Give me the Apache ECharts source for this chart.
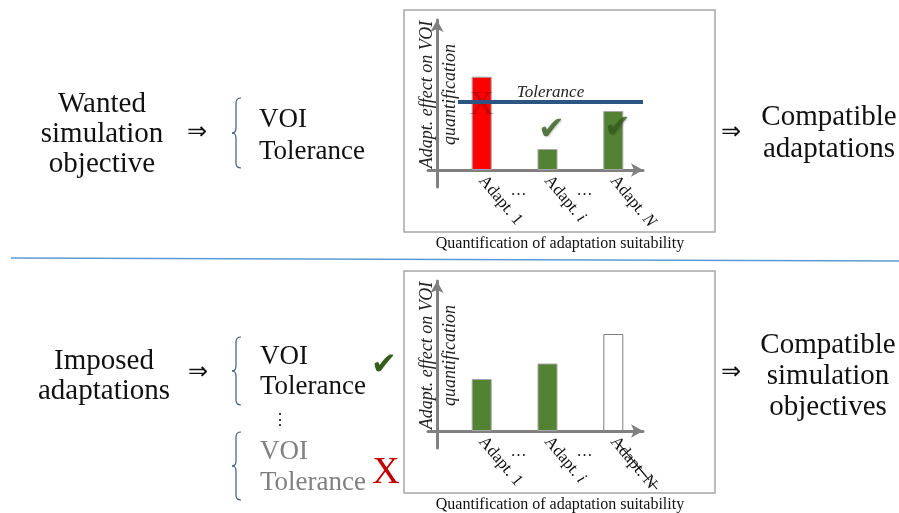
<!DOCTYPE html>
<html>
<head>
<meta charset="utf-8">
<script src="https://cdn.jsdelivr.net/npm/echarts@6/dist/echarts.min.js"></script>
<style>
html, body { margin: 0; padding: 0; background: #fff; }
#main { width: 899px; height: 513px; }
</style>
</head>
<body>
<div id="main"></div>
<script>
// categories of adaptations (the dots are gaps between them)
var categories = ['Adapt. 1', '…', 'Adapt. i', '…', 'Adapt. N'];

// top panel: wanted simulation objective
var wantedEffect = [9.33, null, 2.1, null, 5.9];
var wantedTolerance = 6.83;
var wantedVerdict = ['rejected', null, 'accepted', null, 'accepted'];
var wantedMarkLevel = [6.45, null, 3.95, null, 4.1];

// bottom panel: imposed adaptations
var imposedEffect = [5.2, null, 6.75, null, 9.7];
var imposedTolerance = 7.75;
var imposedVerdict = ['accepted', null, 'accepted', null, 'excluded'];

var SERIF = 'Liberation Serif';
var verdictStyle = {
	rejected: { color: '#ff0000', borderColor: '#a6a6a6', borderWidth: 1 },
	accepted: { color: '#548235', borderColor: '#a6a6a6', borderWidth: 1 },
	excluded: { color: '#ffffff', borderColor: '#7f7f7f', borderWidth: 1 }
};

function strike(s) {
	return s.split('').map(function (c) { return c + '\u0336'; }).join('');
}

var myChart = echarts.init(document.getElementById('main'));

var option = {
	animation: false,
	backgroundColor: '#fff',
	grid: [], xAxis: [], yAxis: [], series: [], graphic: []
};

function addPanel(oy, effect, tolerance, tolRange, verdict, markLevel) {
	var g = option.grid.length;
	// frame grid: the two arrows and the tolerance line
	option.grid.push({ left: 428, top: 20 + oy, width: 215, height: 167 });
	// bar grid
	option.grid.push({ left: 465.25, top: 20 + oy, width: 164.5, height: 150 });

	var xi = option.xAxis.length, yi = option.yAxis.length;
	var axisLine = { show: true, onZero: true, symbol: ['none', 'arrow'], symbolSize: [10, 12],
		lineStyle: { color: '#808080', width: 3 } };

	option.xAxis.push({ type: 'value', gridIndex: g, min: -0.9, max: 20.6,
		axisLine: axisLine, axisTick: { show: false }, axisLabel: { show: false }, splitLine: { show: false } });
	option.xAxis.push({ type: 'category', gridIndex: g + 1, position: 'bottom', data: categories,
		axisLine: { show: false }, axisTick: { show: false },
		axisLabel: {
			interval: 0, rotate: -50, margin: 8, color: '#111',
			fontFamily: SERIF, fontSize: 17,
			formatter: function (v, i) {
				if (v === '…') return '';
				if (verdict[i] === 'excluded') return strike(v);
				var m = v.match(/^(Adapt\. )([a-zA-Z])$/);
				return m ? m[1] + '{it|' + m[2] + '}' : v;
			},
			rich: { it: { fontStyle: 'italic', fontFamily: SERIF, fontSize: 17, color: '#111' } }
		} });
	option.xAxis.push({ type: 'category', gridIndex: g + 1, position: 'bottom', offset: 0, data: categories,
		axisLine: { show: false }, axisTick: { show: false },
		axisLabel: { interval: 0, margin: 13, color: '#111', fontFamily: SERIF, fontSize: 16,
			padding: [0, 0, 0, 8],
			formatter: function (v) { return v === '…' ? v : ''; } } });

	option.yAxis.push({ type: 'value', gridIndex: g, min: -1.7, max: 15,
		axisLine: axisLine, axisTick: { show: false }, axisLabel: { show: false }, splitLine: { show: false },
		name: 'Adapt. effect on VOI\nquantification', nameLocation: 'middle', nameRotate: 90, nameGap: -11,
		nameTextStyle: { fontFamily: SERIF, fontStyle: 'italic', fontSize: 18, color: '#222',
			lineHeight: 23, align: 'center', verticalAlign: 'middle', padding: [0, 0, 0, 18] } });
	option.yAxis.push({ type: 'value', gridIndex: g + 1, min: 0, max: 15, show: false });

	option.series.push({
		type: 'line', xAxisIndex: xi, yAxisIndex: yi, data: [], silent: true,
		markLine: {
			silent: true, symbol: ['none', 'none'],
			lineStyle: { color: '#2c5682', width: 4, type: 'solid' },
			label: { show: true, position: 'insideMiddleTop', distance: 1, formatter: 'Tolerance',
				fontFamily: SERIF, fontStyle: 'italic', fontSize: 17, color: '#222' },
			data: [[{ coord: [tolRange[0], tolerance] }, { coord: [tolRange[1], tolerance] }]]
		}
	});

	option.series.push({
		type: 'bar', xAxisIndex: xi + 1, yAxisIndex: yi + 1, barWidth: 20, silent: true,
		data: effect.map(function (v, i) {
			return v == null ? '-' : { value: v, itemStyle: verdictStyle[verdict[i]] };
		})
	});

	if (markLevel) {
		var marks = [];
		markLevel.forEach(function (v, i) {
			if (v == null) return;
			var ok = verdict[i] === 'accepted';
			marks.push({
				value: [i, v],
				label: ok
					? { formatter: '\u2714', fontFamily: 'DejaVu Sans', fontSize: 32, color: '#355e1b', offset: [4, 0],
						textShadowColor: 'rgba(0,0,0,0.25)', textShadowBlur: 2, textShadowOffsetX: 1, textShadowOffsetY: 1 }
					: { formatter: 'X', fontFamily: SERIF, fontSize: 34, color: 'rgba(120,0,0,0.5)' }
			});
		});
		option.series.push({
			type: 'scatter', xAxisIndex: xi + 1, yAxisIndex: yi + 1, silent: true,
			symbolSize: 1, itemStyle: { color: 'rgba(0,0,0,0)' },
			label: { show: true, position: 'inside' },
			data: marks
		});
	}

	// frame and caption
	option.graphic.push({ type: 'rect', shape: { x: 404, y: 10 + oy, width: 311, height: 222 },
		style: { fill: 'none', stroke: '#a6a6a6', lineWidth: 1.5 }, silent: true });
	option.graphic.push({ type: 'text', x: 560, y: 244 + oy, silent: true,
		style: { text: 'Quantification of adaptation suitability', font: '16px "' + SERIF + '"',
			fill: '#111', align: 'center', verticalAlign: 'middle' } });
}

addPanel(0, wantedEffect, wantedTolerance, [2.1, 20.6], wantedVerdict, wantedMarkLevel);
addPanel(261, imposedEffect, imposedTolerance, [2.5, 20.9], imposedVerdict, null);

function txt(t, x, y, size, opts) {
	opts = opts || {};
	option.graphic.push({ type: 'text', x: x, y: y, silent: true,
		style: { text: t, font: size + 'px "' + (opts.family || SERIF) + '"', fill: opts.color || '#111',
			align: opts.align || 'center', verticalAlign: 'middle', lineHeight: opts.lh || size } });
}
function brace(x, y0, y1, color) {
	var m = (y0 + y1) / 2, xs = x + 4;
	var st = { fill: 'none', stroke: color || '#3a5a8c', lineWidth: 1.2 };
	var curves = [
		{ x1: x + 9, y1: y0, cpx1: xs, cpy1: y0, x2: xs, y2: y0 + 5 },
		{ x1: xs, y1: m - 5, cpx1: xs, cpy1: m, x2: x, y2: m },
		{ x1: x, y1: m, cpx1: xs, cpy1: m, x2: xs, y2: m + 5 },
		{ x1: xs, y1: y1 - 5, cpx1: xs, cpy1: y1, x2: x + 9, y2: y1 }
	];
	curves.forEach(function (c) {
		option.graphic.push({ type: 'bezierCurve', silent: true, shape: c, style: st });
	});
	option.graphic.push({ type: 'line', silent: true, shape: { x1: xs, y1: y0 + 5, x2: xs, y2: m - 5 }, style: st });
	option.graphic.push({ type: 'line', silent: true, shape: { x1: xs, y1: m + 5, x2: xs, y2: y1 - 5 }, style: st });
}

// top row texts
txt('Wanted\nsimulation\nobjective', 102, 134, 29, { lh: 30 });
txt('\u21d2', 197, 133, 24);
brace(232, 98, 168);
txt('VOI', 259, 120, 27, { align: 'left' });
txt('Tolerance', 259, 152, 27, { align: 'left' });
txt('\u21d2', 731, 133, 24);
txt('Compatible\nadaptations', 829, 133, 29, { lh: 32 });

// separator
option.graphic.push({ type: 'line', silent: true, shape: { x1: 11, y1: 258, x2: 899, y2: 261 },
	style: { stroke: '#5b9bd5', lineWidth: 1.5 } });

// bottom row texts
txt('Imposed\nadaptations', 104, 376, 29, { lh: 30 });
txt('\u21d2', 198, 373, 24);
brace(232, 337, 405);
txt('VOI', 260, 357, 27, { align: 'left' });
txt('Tolerance', 260, 387, 27, { align: 'left' });
txt('\u2714', 384, 366, 31, { family: 'DejaVu Sans', color: '#355e1b' });
txt('\u22ee', 280, 421, 16);
brace(232, 432, 500);
txt('VOI', 260, 452, 27, { align: 'left', color: '#808080' });
txt('Tolerance', 260, 483, 27, { align: 'left', color: '#808080' });
txt('X', 386, 473, 38, { color: '#c00000' });
txt('\u21d2', 731, 373, 24);
txt('Compatible\nsimulation\nobjectives', 828, 376, 29, { lh: 31 });

myChart.setOption(option);
</script>
</body>
</html>
